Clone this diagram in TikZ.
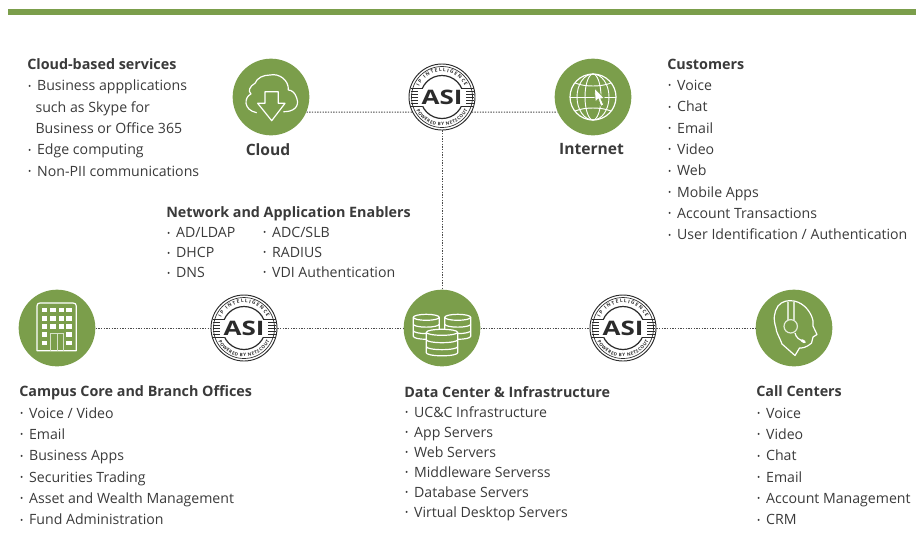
\documentclass[tikz,border=0pt]{standalone}
\usepackage{fontspec}
\setmainfont{Open Sans}
\usetikzlibrary{decorations.text}

\definecolor{asigreen}{HTML}{7B9E4B}
\definecolor{asitext}{HTML}{3A3A3A}
\definecolor{asidark}{HTML}{2B2B2B}

\newcommand{\bul}{\makebox[7.4pt][l]{\hspace*{0.6pt}\raisebox{0.2ex}{\scalebox{0.6}{\textbullet}}}}
\newcommand{\ttl}[1]{{\fontsize{10.75}{10}\selectfont\bfseries #1}}

\begin{document}
\begin{tikzpicture}[x=0.75pt, y=-0.75pt]
		\tikzset{
			site/.style={
				circle,
				fill=asigreen,
				minimum size=57.5pt,
				inner sep=0pt
			},
			badge/.style={
				circle,
				draw=asidark,
				line width=0.7pt,
				fill=white,
				minimum size=49.5pt,
				inner sep=0pt
			},
			sitelabel/.style={
				text=asitext,
				font=\fontsize{11.7}{15}\selectfont\bfseries,
				inner sep=0pt
			},
			listing/.style={
				anchor=north west,
				align=left,
				text=asitext,
				inner sep=0pt,
				font=\fontsize{10.6}{16}\selectfont
			},
			tightlisting/.style={
				listing,
				font=\fontsize{10.6}{15}\selectfont
			},
			link/.style={
				dash pattern=on 1pt off 1pt,
				line width=0.75pt,
				draw=asidark!85
			},
			icon/.style={
				draw=white,
				line width=0.9pt,
				line join=round
			},
			cloudicon/.pic={
				\draw[icon] (12.3,14.7) .. controls (22,15) and (29,10) .. (25.7,1)
					.. controls (24,-5) and (20,-7) .. (17.3,-7)
					.. controls (18,-17) and (8,-24) .. (-1,-22)
					.. controls (-8,-22) and (-14,-19) .. (-16,-13.7)
					.. controls (-22,-10) and (-23,-6) .. (-20,-3)
					.. controls (-27,0) and (-28,13) .. (-14.3,15.7);
				\draw[icon] (-6,-5.3) -- (7.3,-5.3) -- (7.3,6.3) -- (14,6.3)
					-- (0.7,23.7) -- (-13.3,6.3) -- (-6,6.3) -- cycle;
			},
			globeicon/.pic={
				\draw[icon] (0,0) circle[radius=23];
				\draw[icon, line width=0.7pt] (0,0) ellipse[x radius=8, y radius=23];
				\draw[icon, line width=0.7pt] (0,0) ellipse[x radius=16, y radius=23];
				\draw[icon, line width=0.7pt] (-23,0) -- (23,0);
				\draw[icon, line width=0.7pt] (-18,-14) .. controls (-8,-10) and (8,-10) .. (18,-14);
				\draw[icon, line width=0.7pt] (-18,14) .. controls (-8,10) and (8,10) .. (18,14);
				\fill[white, draw=asigreen, line width=0.6pt] (1.3,-9.3) -- (2.3,5) -- (5.3,2.2)
					-- (7.8,9.3) -- (10.8,8) -- (8,1.8) -- (11.7,1.5) -- cycle;
			},
			buildingicon/.pic={
				\draw[icon] (-20,22.7) -- (-20,-22) .. controls (-20,-24) and (-19,-25) .. (-17,-25)
					-- (16,-25) .. controls (18,-25) and (19.3,-24) .. (19.3,-22) -- (19.3,22.7) -- cycle;
				\foreach \winx in {-12.3,-4,4.3,12} {
					\foreach \winy in {-18,-9.3,-1.3} {
						\fill[white] (\winx-2.6,\winy-2.3) rectangle (\winx+2.6,\winy+2.3);
					}
				}
				\foreach \winx in {-12.3,12} {
					\foreach \winy in {6.7,15} {
						\fill[white] (\winx-2.6,\winy-2.3) rectangle (\winx+2.6,\winy+2.3);
					}
				}
				\draw[white!70!asigreen, line width=0.7pt] (-6.7,22.7) -- (-6.7,5) -- (6.7,5) -- (6.7,22.7);
				\draw[white!70!asigreen, line width=0.7pt] (0,5) -- (0,22.7);
			},
			dbicon/.pic={
				\foreach \cx/\ty/\rx/\hh in {-15.7/-10.7/13/19, 15.7/-10.7/13/19, 0/4.3/15.7/20.5} {
					\draw[icon, fill=asigreen] (\cx-\rx,\ty) arc[start angle=180, end angle=360, x radius=\rx, y radius=3]
						-- (\cx+\rx,\ty+\hh) arc[start angle=0, end angle=180, x radius=\rx, y radius=3] -- cycle;
					\draw[icon] (\cx-\rx,\ty) arc[start angle=180, end angle=0, x radius=\rx, y radius=3];
					\draw[icon] (\cx-\rx,\ty+\hh*0.36) arc[start angle=180, end angle=0, x radius=\rx, y radius=3];
					\draw[icon] (\cx-\rx,\ty+\hh*0.7) arc[start angle=180, end angle=0, x radius=\rx, y radius=3];
				}
			},
			headicon/.pic={
				\draw[icon] (-12,16) .. controls (-15,8) and (-18,4) .. (-18,0)
					.. controls (-21,-9) and (-20,-16) .. (-16,-22)
					.. controls (-12,-27) and (-6,-28) .. (0,-27)
					.. controls (11,-25) and (18,-14) .. (19,-7)
					-- (19,-2) -- (23,6.5) -- (19,9) -- (17.5,15)
					.. controls (12,20) and (8,20) .. (5.5,20)
					-- (1,27.5) -- cycle;
				\draw[icon, white!70!asigreen] (-6,-26) -- (-6,-8);
				\draw[icon, white!70!asigreen] (0,-26) -- (0,-8);
				\draw[icon, white!80!asigreen] (-3.3,-1.7) circle[radius=6.7];
				\draw[icon] (1,5) .. controls (2,10) and (6,12) .. (9,13);
				\draw[white, line width=2pt, line cap=round] (8,12.5) -- (10.5,14);
			},
			asibadge/.pic={
				\draw[asidark, line width=0.5pt] (0,0) circle[radius=30.5];
				\draw[asidark, line width=0.9pt] (0,0) circle[radius=21.5];
				\foreach \stripey in {-9,-6,-3,0,3,6,9} {
					\draw[asidark, line width=0.7pt] (-31.5,\stripey) -- (-20,\stripey);
					\draw[asidark, line width=0.7pt] (20,\stripey) -- (31.5,\stripey);
				}
				\path[postaction={decorate, decoration={text along path, text align=fit to path,
					text={|\fontsize{3.6}{4}\selectfont\bfseries\color{asidark}|IP INTELLIGENCE}}}]
					(-22.8,-10.9) arc[start angle=205.5, end angle=334.5, radius=25.3];
				\path[postaction={decorate, decoration={text along path, text align=fit to path,
					text={|\fontsize{3.4}{4}\selectfont\bfseries\color{asidark}|POWERED BY NETSCOUT}}}]
					(-25.7,13.1) arc[start angle=153, end angle=27, radius=28.8];
				\fill[white] (-24,-8.5) rectangle (24,8.5);
				\node[inner sep=0pt, xscale=1.5, yscale=1.15, text=asidark,
					font=\fontsize{13}{13}\selectfont\bfseries] at (0,0) {ASI};
			}
		}

		\fill[asigreen] (8,9) rectangle (916,15);
		\path[use as bounding box] (0,0) rectangle (916,540);

		\node[site] (cloud) at (271,97) {};
		\node[site] (internet) at (593,97) {};
		\node[site] (campus) at (57,328) {};
		\node[site] (datacenter) at (442,328) {};
		\node[site] (callcenter) at (794,328) {};

		\node[badge] (asitop) at (442,97) {};
		\node[badge] (asileft) at (244,328) {};
		\node[badge] (asiright) at (623,328) {};

		\pic at (cloud) {cloudicon};
		\pic at (internet) {globeicon};
		\pic at (campus) {buildingicon};
		\pic at (datacenter) {dbicon};
		\pic at (callcenter) {headicon};
		\pic at (asitop) {asibadge};
		\pic at (asileft) {asibadge};
		\pic at (asiright) {asibadge};

		\draw[link] (cloud.-23) -- (asitop.207);
		\draw[link] (asitop.-27) -- (internet.203);
		\draw[link] (asitop.south) -- (datacenter.north);
		\draw[link] (campus.east) -- (asileft.west);
		\draw[link] (asileft.east) -- (datacenter.west);
		\draw[link] (datacenter.east) -- (asiright.west);
		\draw[link] (asiright.east) -- (callcenter.west);

		\node[sitelabel] (cloudlabel) at (268,149.5) {Cloud};
		\node[sitelabel] (internetlabel) at (591.5,149.5) {Internet};

		\node[listing] (cloudlist) at (27,58.5)
			{\ttl{Cloud-based services}\\
			\bul Business appplications\\
			\hspace*{6.2pt}such as Skype for\\
			\hspace*{6.2pt}Business or Office 365\\
			\bul Edge computing\\
			\bul Non-PII communications};

		\node[listing] (customerlist) at (667,58.5)
			{\ttl{Customers}\\
			\bul Voice\\
			\bul Chat\\
			\bul Email\\
			\bul Video\\
			\bul Web\\
			\bul Mobile Apps\\
			\bul Account Transactions\\
			\bul User Identification / Authentication};

		\node[tightlisting] (enablerlist) at (166,206.5)
			{\ttl{Network and Application Enablers}\\
			\bul AD/LDAP\\
			\bul DHCP\\
			\bul DNS};
		\node[tightlisting] (enablerlisttwo) at (262,227)
			{\bul ADC/SLB\\
			\bul RADIUS\\
			\bul VDI Authentication};

		\node[listing] (campuslist) at (19,385.5)
			{\ttl{Campus Core and Branch Offices}\\
			\bul Voice / Video\\
			\bul Email\\
			\bul Business Apps\\
			\bul Securities Trading\\
			\bul Asset and Wealth Management\\
			\bul Fund Administration};

		\node[tightlisting] (datalist) at (404,386)
			{\ttl{Data Center \& Infrastructure}\\
			\bul UC\&C Infrastructure\\
			\bul App Servers\\
			\bul Web Servers\\
			\bul Middleware Serverss\\
			\bul Database Servers\\
			\bul Virtual Desktop Servers};

		\node[listing] (calllist) at (756,385.5)
			{\ttl{Call Centers}\\
			\bul Voice\\
			\bul Video\\
			\bul Chat\\
			\bul Email\\
			\bul Account Management\\
			\bul CRM};
	\end{tikzpicture}
\end{document}
